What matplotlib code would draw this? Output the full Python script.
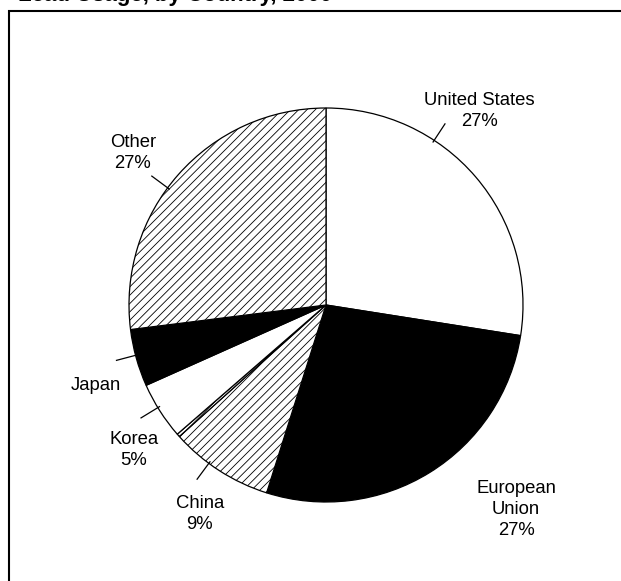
import matplotlib.pyplot as plt
from matplotlib.patches import Rectangle
import numpy as np

plt.rcParams['font.family'] = ['Liberation Sans', 'DejaVu Sans']
plt.rcParams['hatch.linewidth'] = 0.6

# Lead usage shares (percent), clockwise from 12 o'clock
countries = ["United States", "European Union", "China", "", "Korea", "Japan", "Other"]
shares = [27.5, 27.4, 8.5, 0.25, 4.7, 4.7, 27.0]
labels = ["United States\n27%", "European\nUnion\n27%", "China\n9%", "", "Korea\n5%", "Japan", "Other\n27%"]

fills = ["white", "black", "white", "white", "white", "black", "white"]
hatches = [None, None, "////", "////", None, None, "////"]

# label placement (data units, pie radius = 1) and leader angles
label_pos = {
    "United States": (0.78, 0.985),
    "European Union": (0.965, -1.04),
    "China": (-0.64, -1.06),
    "Korea": (-0.975, -0.736),
    "Japan": (-1.17, -0.41),
    "Other": (-0.98, 0.77),
}
leader_angle = {"United States": 56.7, "Other": 143.5, "Japan": -165.2,
                "Korea": -148.6, "China": -126.5}

fig = plt.figure(figsize=(6.21, 5.81), dpi=100)
ax = fig.add_axes([0, 0, 1, 1])

wedges, _ = ax.pie(shares, startangle=90, counterclock=False, radius=1,
                   colors=fills, wedgeprops=dict(edgecolor="black", linewidth=0.9))
for w, h in zip(wedges, hatches):
    if h:
        w.set_hatch(h)

for name, lab in zip(countries, labels):
    if not name:
        continue
    x, y = label_pos[name]
    ax.text(x, y, lab, ha="center", va="center", fontsize=13.3, linespacing=1.3)
    if name in leader_angle:
        a = np.deg2rad(leader_angle[name])
        ax.plot([0.99 * np.cos(a), 1.1 * np.cos(a)], [0.99 * np.sin(a), 1.1 * np.sin(a)],
                color="black", linewidth=0.9)

ax.set_aspect("auto")
ax.set_xlim(-326 / 197, (621 - 326) / 197)
ax.set_ylim(-(581 - 305) / 197, 305 / 197)
ax.axis("off")

# outer frame (cropped at right and bottom)
fig.add_artist(Rectangle((9 / 621, -0.05), 1.1, 1 - 11 / 581 + 0.05,
                         transform=fig.transFigure, fill=False,
                         edgecolor="black", linewidth=1.5))
fig.text(18 / 621, 1 - 1 / 581, "Lead Usage, by Country, 2000", fontsize=16,
         fontweight="bold", ha="left", va="baseline")

fig.savefig("out.png", dpi=100)
